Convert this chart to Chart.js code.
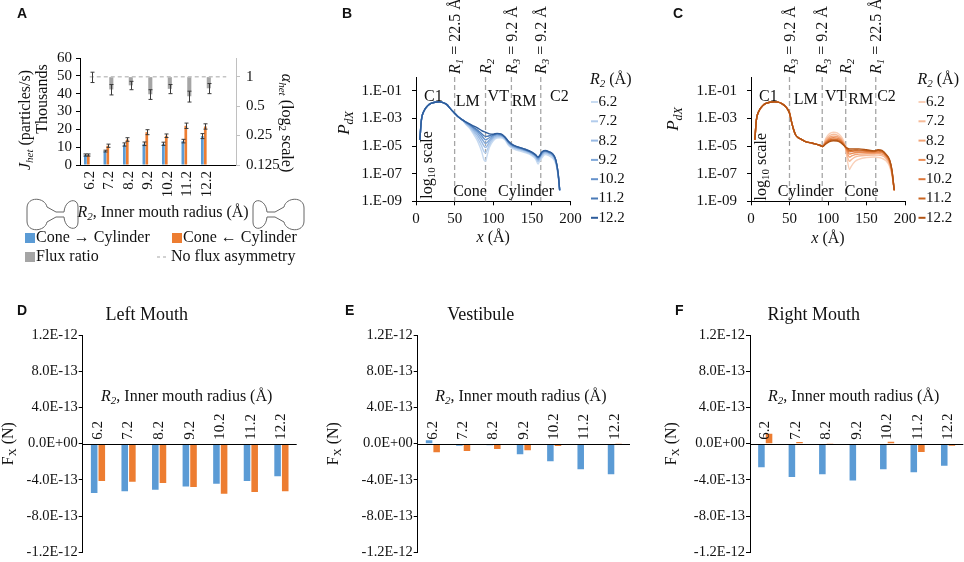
<!DOCTYPE html>
<html>
<head>
<meta charset="utf-8">
<script src="https://cdn.jsdelivr.net/npm/chart.js@4.4.1/dist/chart.umd.min.js"></script>
<style>
  body { margin: 0; background: #fff; }
  #wrap { position: relative; width: 964px; height: 562px; overflow: hidden; background: #fff; }
  canvas { position: absolute; }
  .tag { position: absolute; font: bold 14px "Liberation Sans", Arial, sans-serif; line-height: 16px; color: #111; }
</style>
</head>
<body>
<div id="wrap">
  <canvas id="cA" width="320" height="270" style="left:0;top:0;width:320px;height:270px"></canvas>
  <canvas id="cB" width="320" height="270" style="left:320px;top:0;width:320px;height:270px"></canvas>
  <canvas id="cC" width="324" height="270" style="left:640px;top:0;width:324px;height:270px"></canvas>
  <canvas id="cD" width="320" height="277" style="left:0;top:285px;width:320px;height:277px"></canvas>
  <canvas id="cE" width="320" height="277" style="left:320px;top:285px;width:320px;height:277px"></canvas>
  <canvas id="cF" width="324" height="277" style="left:640px;top:285px;width:324px;height:277px"></canvas>
  <div class="tag" style="left:17px;top:5px">A</div>
  <div class="tag" style="left:342px;top:5px">B</div>
  <div class="tag" style="left:673px;top:5px">C</div>
  <div class="tag" style="left:17px;top:302px">D</div>
  <div class="tag" style="left:345px;top:302px">E</div>
  <div class="tag" style="left:675px;top:302px">F</div>
</div>
<script>
// ---- data ----
const radii = ['6.2', '7.2', '8.2', '9.2', '10.2', '11.2', '12.2'];
// panel A keeps one empty slot on the right, as in the original axis
const slotsA = ['6.2', '7.2', '8.2', '9.2', '10.2', '11.2', '12.2', ''];

// J_het, thousands of particles/s
const fluxConeToCyl = [5.6, 7.8, 11.5, 11.9, 11.9, 13.4, 16.2];
const fluxConeToCylErr = [0.6, 0.5, 0.9, 1.0, 0.9, 1.0, 1.4];
const fluxCylToCone = [5.6, 10.8, 14.3, 18.4, 16.4, 22.0, 21.6];
const fluxCylToConeErr = [0.6, 0.9, 1.0, 1.4, 1.0, 1.5, 1.5];
// alpha_het (log2 axis)
const fluxRatio = [0.99, 0.74, 0.815, 0.66, 0.75, 0.63, 0.76];
const fluxRatioErr = [0.12, 0.09, 0.08, 0.075, 0.08, 0.08, 0.09];
const noAsymmetry = [1, 1, 1, 1, 1, 1, 1, 1];
const jTicks = [0, 10, 20, 30, 40, 50, 60];
const ratioTicks = [0.125, 0.25, 0.5, 1];

// panel B: P_dX along x, cone on the left
const xB = [5, 7, 10, 15, 20, 25, 30, 35, 40, 45, 50, 55, 60, 65, 70, 75, 80, 85, 88, 90, 92, 95, 100, 105, 110,
  115, 120, 125, 130, 140, 150, 155, 158, 160, 163, 167, 172, 177, 181, 184, 186];
const pB62 = [2.8e-5, 7.9e-4, 3.2e-3, 8.1e-3, 1.26e-2, 1.5e-2, 1.6e-2, 1.4e-2, 1.0e-2, 4.7e-3, 2.4e-3, 1.26e-3, 7.9e-4,
  3.5e-4, 1.8e-4, 6.5e-5, 2.1e-5, 4.0e-6, 1.0e-6, 7.9e-7, 2.0e-6, 7.9e-6, 2.4e-5, 3.8e-5, 4.0e-5, 2.8e-5, 1.1e-5,
  6.8e-6, 5.2e-6, 3.5e-6, 2.0e-6, 1.1e-6, 5.0e-7, 7.9e-7, 1.4e-6, 2.4e-6, 2.0e-6, 1.3e-6, 5.0e-7, 6.3e-8, 6.3e-9];
const pB72 = [2.8e-5, 7.9e-4, 3.2e-3, 8.1e-3, 1.26e-2, 1.5e-2, 1.6e-2, 1.4e-2, 1.0e-2, 4.7e-3, 2.4e-3, 1.26e-3, 7.9e-4,
  3.8e-4, 2.1e-4, 8.9e-5, 3.5e-5, 1.0e-5, 4.0e-6, 3.2e-6, 5.0e-6, 1.26e-5, 3.2e-5, 4.5e-5, 4.6e-5, 3.2e-5, 1.3e-5,
  7.9e-6, 6.3e-6, 4.2e-6, 2.4e-6, 1.4e-6, 7.1e-7, 1.0e-6, 1.9e-6, 3.0e-6, 2.5e-6, 1.7e-6, 6.3e-7, 7.6e-8, 6.3e-9];
const pB82 = [2.8e-5, 7.9e-4, 3.2e-3, 8.1e-3, 1.26e-2, 1.5e-2, 1.6e-2, 1.4e-2, 1.0e-2, 4.7e-3, 2.4e-3, 1.26e-3, 7.9e-4,
  4.2e-4, 2.5e-4, 1.2e-4, 5.6e-5, 2.0e-5, 1.0e-5, 7.9e-6, 1.0e-5, 2.0e-5, 4.0e-5, 5.2e-5, 5.2e-5, 3.5e-5, 1.5e-5,
  8.9e-6, 7.1e-6, 4.8e-6, 2.8e-6, 1.7e-6, 9.3e-7, 1.3e-6, 2.4e-6, 3.5e-6, 3.0e-6, 1.9e-6, 7.6e-7, 8.7e-8, 6.3e-9];
const pB92 = [2.8e-5, 7.9e-4, 3.2e-3, 8.1e-3, 1.26e-2, 1.5e-2, 1.6e-2, 1.4e-2, 1.0e-2, 4.7e-3, 2.4e-3, 1.26e-3, 7.9e-4,
  4.7e-4, 3.0e-4, 1.6e-4, 8.3e-5, 3.5e-5, 2.0e-5, 1.6e-5, 1.8e-5, 2.8e-5, 5.0e-5, 6.3e-5, 6.0e-5, 4.0e-5, 1.7e-5,
  1.0e-5, 7.9e-6, 5.2e-6, 3.0e-6, 1.9e-6, 1.1e-6, 1.5e-6, 2.8e-6, 4.0e-6, 3.3e-6, 2.2e-6, 8.3e-7, 9.5e-8, 6.3e-9];
const pB102 = [2.8e-5, 7.9e-4, 3.2e-3, 8.1e-3, 1.26e-2, 1.5e-2, 1.6e-2, 1.4e-2, 1.0e-2, 4.7e-3, 2.4e-3, 1.26e-3, 7.9e-4,
  5.0e-4, 3.3e-4, 1.9e-4, 1.1e-4, 5.6e-5, 3.5e-5, 2.8e-5, 3.2e-5, 4.0e-5, 6.0e-5, 7.2e-5, 6.6e-5, 4.3e-5, 1.9e-5,
  1.1e-5, 8.5e-6, 5.6e-6, 3.2e-6, 2.0e-6, 1.3e-6, 1.7e-6, 3.2e-6, 4.4e-6, 3.5e-6, 2.4e-6, 8.9e-7, 1.0e-7, 6.3e-9];
const pB112 = [2.8e-5, 7.9e-4, 3.2e-3, 8.1e-3, 1.26e-2, 1.5e-2, 1.6e-2, 1.4e-2, 1.0e-2, 4.7e-3, 2.4e-3, 1.26e-3, 7.9e-4,
  5.2e-4, 3.5e-4, 2.2e-4, 1.4e-4, 7.9e-5, 5.6e-5, 5.0e-5, 5.0e-5, 5.6e-5, 6.6e-5, 7.9e-5, 7.1e-5, 4.5e-5, 2.0e-5,
  1.2e-5, 8.9e-6, 6.0e-6, 3.5e-6, 2.2e-6, 1.5e-6, 1.9e-6, 3.5e-6, 4.6e-6, 3.8e-6, 2.6e-6, 9.5e-7, 1.05e-7, 6.3e-9];
const pB122 = [2.8e-5, 7.9e-4, 3.2e-3, 8.1e-3, 1.26e-2, 1.5e-2, 1.6e-2, 1.4e-2, 1.0e-2, 4.7e-3, 2.4e-3, 1.26e-3, 7.9e-4,
  5.5e-4, 3.8e-4, 2.8e-4, 2.0e-4, 1.3e-4, 1.1e-4, 1.0e-4, 8.9e-5, 7.6e-5, 7.2e-5, 8.3e-5, 7.6e-5, 4.6e-5, 2.1e-5,
  1.26e-5, 9.5e-6, 6.3e-6, 3.6e-6, 2.3e-6, 1.6e-6, 2.0e-6, 3.8e-6, 4.8e-6, 4.0e-6, 2.7e-6, 1.0e-6, 1.07e-7, 6.3e-9];

// panel C: P_dX along x, cylinder on the left
const xC = [5, 7, 10, 15, 20, 25, 30, 35, 40, 45, 50, 52, 55, 58, 62, 65, 70, 80, 90, 93, 97, 102, 107, 112, 117,
  122, 125, 128, 130, 135, 140, 150, 160, 165, 170, 175, 180, 183, 186];
const pC62 = [2.8e-5, 7.9e-4, 3.2e-3, 8.1e-3, 1.26e-2, 1.5e-2, 1.6e-2, 1.5e-2, 1.2e-2, 7.2e-3, 2.5e-3, 7.9e-4, 1.8e-4,
  6.3e-5, 3.8e-5, 3.2e-5, 2.2e-5, 1.6e-5, 1.1e-5, 9.3e-6, 3.5e-5, 7.9e-5, 1.0e-4, 8.9e-5, 5.0e-5, 1.26e-5, 1.0e-6,
  2.0e-7, 3.3e-7, 7.6e-7, 1.1e-6, 1.5e-6, 1.6e-6, 1.5e-6, 1.3e-6, 8.9e-7, 3.3e-7, 7.9e-8, 6.3e-9];
const pC72 = [2.8e-5, 7.9e-4, 3.2e-3, 8.1e-3, 1.26e-2, 1.5e-2, 1.6e-2, 1.5e-2, 1.2e-2, 7.2e-3, 2.5e-3, 7.9e-4, 1.8e-4,
  6.3e-5, 3.8e-5, 3.2e-5, 2.2e-5, 1.6e-5, 1.1e-5, 9.3e-6, 2.8e-5, 5.6e-5, 7.1e-5, 6.3e-5, 3.8e-5, 1.1e-5, 2.0e-6,
  7.9e-7, 1.0e-6, 1.6e-6, 1.9e-6, 2.1e-6, 2.2e-6, 2.2e-6, 2.0e-6, 1.3e-6, 4.5e-7, 1.0e-7, 6.3e-9];
const pC82 = [2.8e-5, 7.9e-4, 3.2e-3, 8.1e-3, 1.26e-2, 1.5e-2, 1.6e-2, 1.5e-2, 1.2e-2, 7.2e-3, 2.5e-3, 7.9e-4, 1.8e-4,
  6.3e-5, 3.8e-5, 3.2e-5, 2.2e-5, 1.6e-5, 1.1e-5, 9.3e-6, 2.2e-5, 4.2e-5, 5.2e-5, 4.8e-5, 3.0e-5, 1.05e-5, 3.2e-6,
  1.6e-6, 1.8e-6, 2.4e-6, 2.6e-6, 2.8e-6, 2.8e-6, 2.9e-6, 2.6e-6, 1.7e-6, 5.6e-7, 1.2e-7, 6.3e-9];
const pC92 = [2.8e-5, 7.9e-4, 3.2e-3, 8.1e-3, 1.26e-2, 1.5e-2, 1.6e-2, 1.5e-2, 1.2e-2, 7.2e-3, 2.5e-3, 7.9e-4, 1.8e-4,
  6.3e-5, 3.8e-5, 3.2e-5, 2.2e-5, 1.6e-5, 1.1e-5, 9.3e-6, 1.9e-5, 3.3e-5, 4.0e-5, 3.7e-5, 2.5e-5, 1.0e-5, 4.5e-6,
  2.6e-6, 2.8e-6, 3.3e-6, 3.5e-6, 3.5e-6, 3.4e-6, 3.6e-6, 3.3e-6, 2.0e-6, 7.1e-7, 1.4e-7, 6.3e-9];
const pC102 = [2.8e-5, 7.9e-4, 3.2e-3, 8.1e-3, 1.26e-2, 1.5e-2, 1.6e-2, 1.5e-2, 1.2e-2, 7.2e-3, 2.5e-3, 7.9e-4, 1.8e-4,
  6.3e-5, 3.8e-5, 3.2e-5, 2.2e-5, 1.6e-5, 1.1e-5, 9.3e-6, 1.7e-5, 2.8e-5, 3.2e-5, 3.0e-5, 2.2e-5, 9.8e-6, 5.6e-6,
  3.8e-6, 4.0e-6, 4.4e-6, 4.3e-6, 4.2e-6, 3.9e-6, 4.4e-6, 4.0e-6, 2.3e-6, 8.3e-7, 1.6e-7, 6.3e-9];
const pC112 = [2.8e-5, 7.9e-4, 3.2e-3, 8.1e-3, 1.26e-2, 1.5e-2, 1.6e-2, 1.5e-2, 1.2e-2, 7.2e-3, 2.5e-3, 7.9e-4, 1.8e-4,
  6.3e-5, 3.8e-5, 3.2e-5, 2.2e-5, 1.6e-5, 1.1e-5, 9.3e-6, 1.5e-5, 2.4e-5, 2.8e-5, 2.6e-5, 1.9e-5, 9.5e-6, 6.6e-6,
  5.0e-6, 5.0e-6, 5.2e-6, 5.1e-6, 4.8e-6, 4.3e-6, 4.9e-6, 4.5e-6, 2.5e-6, 9.3e-7, 1.8e-7, 6.3e-9];
const pC122 = [2.8e-5, 7.9e-4, 3.2e-3, 8.1e-3, 1.26e-2, 1.5e-2, 1.6e-2, 1.5e-2, 1.2e-2, 7.2e-3, 2.5e-3, 7.9e-4, 1.8e-4,
  6.3e-5, 3.8e-5, 3.2e-5, 2.2e-5, 1.6e-5, 1.1e-5, 9.3e-6, 1.4e-5, 2.1e-5, 2.4e-5, 2.3e-5, 1.7e-5, 9.3e-6, 7.1e-6,
  6.3e-6, 6.3e-6, 6.3e-6, 6.3e-6, 5.4e-6, 4.5e-6, 5.4e-6, 4.8e-6, 2.7e-6, 1.0e-6, 1.9e-7, 6.3e-9];
const pdxTicks = [1e-9, 1e-7, 1e-5, 1e-3, 1e-1];
const pdxTickLabels = ['1.E-09', '1.E-07', '1.E-05', '1.E-03', '1.E-01'];
const xTicksPdx = [0, 50, 100, 150, 200];

// region boundaries (x, Å)
const boundsB = [50, 90, 123.5, 161.5];
const boundsC = [50, 92.5, 123, 162];

// panels D-F: F_X (N) per region
const forceLMcone = [-5.46e-13, -5.27e-13, -5.09e-13, -4.72e-13, -4.42e-13, -4.13e-13, -3.61e-13];
const forceLMcyl = [-4.13e-13, -4.2e-13, -4.35e-13, -4.79e-13, -5.53e-13, -5.35e-13, -5.27e-13];
const forceVTcone = [3.7e-14, -2.2e-14, -1.8e-14, -1.18e-13, -1.95e-13, -2.84e-13, -3.39e-13];
const forceVTcyl = [-9.6e-14, -8.1e-14, -5.9e-14, -7.4e-14, -2.6e-14, -1.5e-14, 7e-15];
const forceRMcone = [-2.62e-13, -3.69e-13, -3.39e-13, -4.06e-13, -2.84e-13, -3.17e-13, -2.43e-13];
const forceRMcyl = [1.1e-13, 1.8e-14, 7e-15, 4e-15, 2.2e-14, -9.2e-14, -2.2e-14];
const forceTicks = [-1.2e-12, -8e-13, -4e-13, 0, 4e-13, 8e-13, 1.2e-12];
const forceTickLabels = ['-1.2E-12', '-8.0E-13', '-4.0E-13', '0.0E+00', '4.0E-13', '8.0E-13', '1.2E-12'];

// ---- styling ----
const SERIF = '"Liberation Serif", "Times New Roman", serif';
const INK = '#111';
const BLUE = '#5b9bd5';
const ORANGE = '#ed7d31';
const GREY = '#a5a5a5';
const bluesB = ['#c8dbf1', '#b2ccec', '#98b9e3', '#7fa7d8', '#6592cb', '#4a7ab7', '#2d5c9b'];
const orangesC = ['#f9d0b9', '#f6bb99', '#f2a376', '#eb8c54', '#dd7639', '#c96420', '#b15313'];
const TICK_FONT = { family: SERIF, size: 15 };

const R2_TITLE = [['R', 'i'], ['2', 'is'], [', Inner mouth radius (Å)', '']];
const R2_UNIT = [['R', 'i'], ['2', 'is'], [' (Å)', '']];
const PDX = [['P', 'i'], ['dX', 'is']];
const XTITLE = [['x', 'i'], [' (Å)', '']];

Chart.defaults.font.family = SERIF;
Chart.defaults.font.size = 15;
Chart.defaults.color = INK;
Chart.defaults.animation = false;
Chart.defaults.plugins.legend.display = false;
Chart.defaults.plugins.tooltip.enabled = false;

// text with italic / subscript pieces
function rich(ctx, parts, x, y, size, align, angle) {
  ctx.save();
  ctx.translate(x, y);
  if (angle) ctx.rotate(angle);
  ctx.textBaseline = 'middle';
  ctx.textAlign = 'left';
  ctx.fillStyle = INK;
  const fontOf = f => (f.includes('i') ? 'italic ' : '') + (f.includes('s') ? Math.round(size * 0.68) : size) + 'px ' + SERIF;
  let w = 0;
  parts.forEach(([t, f]) => { ctx.font = fontOf(f); w += ctx.measureText(t).width; });
  let cx = align === 'center' ? -w / 2 : align === 'right' ? -w : 0;
  parts.forEach(([t, f]) => {
    ctx.font = fontOf(f);
    ctx.fillText(t, cx, f.includes('s') ? size * 0.28 : 0);
    cx += ctx.measureText(t).width;
  });
  ctx.restore();
}

function errorBars(chart, index, errs) {
  const meta = chart.getDatasetMeta(index);
  const scale = chart.scales[meta.yAxisID];
  const vals = chart.data.datasets[index].data;
  const ctx = chart.ctx;
  ctx.save();
  ctx.strokeStyle = '#3a3a3a';
  ctx.lineWidth = 1;
  meta.data.forEach((bar, i) => {
    if (vals[i] == null || errs[i] == null) return;
    const x = Math.round(bar.x) + 0.5;
    const y1 = scale.getPixelForValue(vals[i] - errs[i]);
    const y2 = scale.getPixelForValue(vals[i] + errs[i]);
    ctx.beginPath();
    ctx.moveTo(x, y1); ctx.lineTo(x, y2);
    ctx.moveTo(x - 2, y1); ctx.lineTo(x + 2, y1);
    ctx.moveTo(x - 2, y2); ctx.lineTo(x + 2, y2);
    ctx.stroke();
  });
  ctx.restore();
}

// little channel outline beside the panel A axis title
function pore(ctx, mirror) {
  ctx.save();
  if (mirror) { ctx.translate(mirror, 0); ctx.scale(-1, 1); }
  ctx.beginPath();
  ctx.moveTo(47, 207);
  ctx.bezierCurveTo(45, 197, 27, 196, 27, 208);
  ctx.lineTo(27, 221);
  ctx.bezierCurveTo(27, 233, 45, 232, 47, 222);
  ctx.lineTo(56, 217);
  ctx.lineTo(64, 217);
  ctx.bezierCurveTo(65, 230, 78, 232, 78, 222);
  ctx.lineTo(78, 207);
  ctx.bezierCurveTo(78, 197, 65, 199, 64, 212);
  ctx.lineTo(56, 212);
  ctx.closePath();
  ctx.strokeStyle = '#666';
  ctx.lineWidth = 1;
  ctx.stroke();
  ctx.restore();
}

// ---- panel A ----
const panelA = {
  id: 'panelA',
  afterDatasetsDraw(chart) {
    errorBars(chart, 0, fluxConeToCylErr);
    errorBars(chart, 1, fluxCylToConeErr);
    errorBars(chart, 2, fluxRatioErr);
  },
  afterDraw(chart) {
    const ctx = chart.ctx;
    const ds = chart.data.datasets;
    rich(ctx, [['J', 'i'], ['het', 'is'], [' (particles/s)', '']], 26, 120, 16, 'center', -Math.PI / 2);
    rich(ctx, [['Thousands', '']], 43, 99, 16, 'center', -Math.PI / 2);
    rich(ctx, [['α', 'i'], ['het', 'is'], [' (log', ''], ['2', 's'], [' scale)', '']], 286, 123, 16, 'center', Math.PI / 2);
    rich(ctx, R2_TITLE, 163, 213, 16, 'center');
    pore(ctx, 0);
    pore(ctx, 331);

    // legend
    ctx.save();
    ctx.fillStyle = ds[0].backgroundColor; ctx.fillRect(25, 233, 10, 10);
    ctx.fillStyle = ds[1].backgroundColor; ctx.fillRect(172, 233, 10, 10);
    ctx.fillStyle = ds[2].backgroundColor; ctx.fillRect(25, 252, 10, 10);
    ctx.strokeStyle = ds[3].borderColor; ctx.lineWidth = 1.5; ctx.setLineDash([3, 3]);
    ctx.beginPath(); ctx.moveTo(157, 257); ctx.lineTo(169, 257); ctx.stroke();
    ctx.restore();
    rich(ctx, [[ds[0].label, '']], 36, 238, 16, 'left');
    rich(ctx, [[ds[1].label, '']], 183, 238, 16, 'left');
    rich(ctx, [[ds[2].label, '']], 36, 257, 16, 'left');
    rich(ctx, [[ds[3].label, '']], 171, 257, 16, 'left');
  }
};

new Chart(document.getElementById('cA'), {
  type: 'bar',
  data: {
    labels: slotsA,
    datasets: [
      { label: 'Cone → Cylinder', data: fluxConeToCyl, backgroundColor: BLUE, xAxisID: 'x', yAxisID: 'y',
        categoryPercentage: 0.6, barPercentage: 0.92 },
      { label: 'Cone ← Cylinder', data: fluxCylToCone, backgroundColor: ORANGE, xAxisID: 'x', yAxisID: 'y',
        categoryPercentage: 0.6, barPercentage: 0.92 },
      { label: 'Flux ratio', data: fluxRatio, base: 1, backgroundColor: GREY, xAxisID: 'x2', yAxisID: 'y2',
        categoryPercentage: 0.42, barPercentage: 1 },
      { type: 'line', label: 'No flux asymmetry', data: noAsymmetry, xAxisID: 'x2', yAxisID: 'y2',
        borderColor: '#c4c4c4', borderWidth: 1.5, borderDash: [4, 3], pointRadius: 0, order: -1 }
    ]
  },
  options: {
    responsive: false,
    layout: { padding: { left: 0, right: 0, top: 58, bottom: 0 } },
    scales: {
      x: {
        afterFit: s => { s.height = 105; },
        grid: { display: false, drawTicks: false },
        border: { color: '#000' },
        ticks: { minRotation: 90, maxRotation: 90, autoSkip: false, padding: 6, font: TICK_FONT }
      },
      x2: { type: 'category', display: false, offset: true },
      y: {
        min: 0, max: 60,
        afterFit: s => { s.width = 80; },
        afterBuildTicks: s => { s.ticks = jTicks.map(v => ({ value: v })); },
        ticks: { autoSkip: false, padding: 4, font: TICK_FONT },
        grid: { drawOnChartArea: false, tickLength: 4, color: '#000' },
        border: { color: '#000' }
      },
      y2: {
        type: 'logarithmic', position: 'right', min: 0.125, max: 1.55,
        afterFit: s => { s.width = 84; },
        afterBuildTicks: s => { s.ticks = ratioTicks.map(v => ({ value: v })); },
        ticks: { autoSkip: false, callback: v => String(v), padding: 6, font: TICK_FONT },
        grid: { drawOnChartArea: false, tickLength: 4, color: '#c0c0c0' },
        border: { color: '#c0c0c0' }
      }
    }
  },
  plugins: [panelA]
});

// ---- panels B and C ----
function profilePlugin(o) {
  return {
    id: 'profile',
    beforeDatasetsDraw(chart) {
      const { ctx, chartArea: ca, scales: { x } } = chart;
      ctx.save();
      ctx.strokeStyle = '#a6a6a6';
      ctx.lineWidth = 1.3;
      ctx.setLineDash([5, 3]);
      o.bounds.forEach(b => {
        const px = x.getPixelForValue(b);
        ctx.beginPath(); ctx.moveTo(px, ca.top); ctx.lineTo(px, ca.bottom); ctx.stroke();
      });
      ctx.restore();
    },
    afterDraw(chart) {
      const { ctx, chartArea: ca, scales: { x, y } } = chart;
      o.bounds.forEach((b, k) => rich(ctx, o.boundLabels[k], x.getPixelForValue(b) + 1, ca.top - 3, 16, 'left', -Math.PI / 2));
      o.regions.forEach(r => rich(ctx, r.parts, x.getPixelForValue(r.x), y.getPixelForValue(r.y), 16, 'center',
        r.rot ? -Math.PI / 2 : 0));
      rich(ctx, PDX, o.pdx[0], o.pdx[1], 17, 'center', -Math.PI / 2);
      rich(ctx, XTITLE, (ca.left + ca.right) / 2, o.xTitleY, 16, 'center');
      // legend
      rich(ctx, R2_UNIT, o.leg, 80, 16, 'left');
      chart.data.datasets.forEach((ds, i) => {
        const yy = 102 + i * 19.3;
        ctx.save();
        ctx.strokeStyle = ds.borderColor;
        ctx.lineWidth = 2;
        ctx.beginPath(); ctx.moveTo(o.leg + 1, yy); ctx.lineTo(o.leg + 8, yy); ctx.stroke();
        ctx.restore();
        rich(ctx, [[ds.label, '']], o.leg + 8.5, yy, 15, 'left');
      });
    }
  };
}

function profileChart(id, xs, curves, colors, o) {
  return new Chart(document.getElementById(id), {
    type: 'line',
    data: {
      datasets: curves.map((c, k) => ({
        label: radii[k],
        data: xs.map((xv, i) => ({ x: xv, y: c[i] })),
        borderColor: colors[k],
        borderWidth: 1.4,
        pointRadius: 0,
        cubicInterpolationMode: 'monotone',
        fill: false,
        order: curves.length - k   // widest radius drawn on top
      }))
    },
    options: {
      responsive: false,
      layout: { padding: { left: 0, right: o.right, top: 77, bottom: 0 } },
      scales: {
        x: {
          type: 'linear', min: 0, max: 200,
          afterFit: s => { s.height = 68.7; },
          afterBuildTicks: s => { s.ticks = xTicksPdx.map(v => ({ value: v })); },
          ticks: { autoSkip: false, padding: 5, font: TICK_FONT },
          grid: { drawOnChartArea: false, tickLength: 4, color: '#000' },
          border: { color: '#000' }
        },
        y: {
          type: 'logarithmic', min: 1e-9, max: 1,
          afterFit: s => { s.width = o.left; },
          afterBuildTicks: s => { s.ticks = pdxTicks.map(v => ({ value: v })); },
          ticks: { autoSkip: false, callback: (v, i) => pdxTickLabels[i], padding: 10, font: TICK_FONT },
          grid: { drawOnChartArea: false, tickLength: 4, color: '#000' },
          border: { color: '#000' }
        }
      }
    },
    plugins: [profilePlugin(o)]
  });
}

const LOG10 = [['log', ''], ['10', 's'], [' scale', '']];

profileChart('cB', xB, [pB62, pB72, pB82, pB92, pB102, pB112, pB122], bluesB, {
  left: 96, right: 69.5, leg: 270, pdx: [25, 123], xTitleY: 238,
  bounds: boundsB,
  boundLabels: [
    [['R', 'i'], ['1', 'is'], [' = 22.5 Å', '']],
    [['R', 'i'], ['2', 'is']],
    [['R', 'i'], ['3', 'is'], [' = 9.2 Å', '']],
    [['R', 'i'], ['3', 'is'], [' = 9.2 Å', '']]
  ],
  regions: [
    { x: 22.4, y: 0.038, parts: [['C1', '']] },
    { x: 67, y: 0.0166, parts: [['LM', '']] },
    { x: 106.5, y: 0.038, parts: [['VT', '']] },
    { x: 140, y: 0.0166, parts: [['RM', '']] },
    { x: 185.5, y: 0.038, parts: [['C2', '']] },
    { x: 70, y: 5e-9, parts: [['Cone', '']] },
    { x: 142.4, y: 5e-9, parts: [['Cylinder', '']] },
    { x: 14.7, y: 4.3e-7, parts: LOG10, rot: true }
  ]
});

profileChart('cC', xC, [pC62, pC72, pC82, pC92, pC102, pC112, pC122], orangesC, {
  left: 111, right: 59, leg: 277.5, pdx: [34, 119], xTitleY: 239,
  bounds: boundsC,
  boundLabels: [
    [['R', 'i'], ['3', 'is'], [' = 9.2 Å', '']],
    [['R', 'i'], ['3', 'is'], [' = 9.2 Å', '']],
    [['R', 'i'], ['2', 'is']],
    [['R', 'i'], ['1', 'is'], [' = 22.5 Å', '']]
  ],
  regions: [
    { x: 22.5, y: 0.038, parts: [['C1', '']] },
    { x: 71, y: 0.021, parts: [['LM', '']] },
    { x: 110, y: 0.038, parts: [['VT', '']] },
    { x: 142.5, y: 0.021, parts: [['RM', '']] },
    { x: 176, y: 0.038, parts: [['C2', '']] },
    { x: 71, y: 5e-9, parts: [['Cylinder', '']] },
    { x: 143.7, y: 5e-9, parts: [['Cone', '']] },
    { x: 14, y: 3.2e-7, parts: LOG10, rot: true }
  ]
});

// ---- panels D, E, F ----
function forcePlugin(o) {
  return {
    id: 'force',
    afterDatasetsDraw(chart) {
      const { ctx, chartArea: ca, scales: { y } } = chart;
      const zy = Math.round(y.getPixelForValue(0)) + 0.5;
      ctx.save();
      ctx.strokeStyle = '#000';
      ctx.lineWidth = 1;
      ctx.beginPath(); ctx.moveTo(ca.left, zy); ctx.lineTo(ca.right, zy); ctx.stroke();
      ctx.restore();
    },
    afterDraw(chart) {
      const { ctx, chartArea: ca, scales: { x, y } } = chart;
      const zy = y.getPixelForValue(0);
      const cx = (ca.left + ca.right) / 2;
      rich(ctx, [[o.title, '']], cx - 43, 30, 18, 'center');
      rich(ctx, R2_TITLE, cx - 3, zy - 47, 16, 'center');
      chart.data.labels.forEach((lab, i) => rich(ctx, [[lab, '']], x.getPixelForValue(i), zy - 4, 15, 'left', -Math.PI / 2));
      rich(ctx, [['F', ''], ['X', 's'], [' (N)', '']], o.fx, (ca.top + ca.bottom) / 2, 16, 'center', -Math.PI / 2);
    }
  };
}

function forceChart(id, cone, cyl, o) {
  return new Chart(document.getElementById(id), {
    type: 'bar',
    data: {
      labels: radii,
      datasets: [
        { label: 'Cone → Cylinder', data: cone, backgroundColor: BLUE, categoryPercentage: 0.5, barPercentage: 0.86 },
        { label: 'Cone ← Cylinder', data: cyl, backgroundColor: ORANGE, categoryPercentage: 0.5, barPercentage: 0.86 }
      ]
    },
    options: {
      responsive: false,
      layout: { padding: { left: 0, right: o.right, top: 50, bottom: 9.7 } },
      scales: {
        x: { display: false },
        y: {
          min: -1.2e-12, max: 1.2e-12,
          afterFit: s => { s.width = o.left; },
          afterBuildTicks: s => { s.ticks = forceTicks.map(v => ({ value: v })); },
          ticks: { autoSkip: false, callback: (v, i) => forceTickLabels[i], padding: 1, font: { family: SERIF, size: 14.5 } },
          grid: { color: 'rgba(0,0,0,0)', tickColor: '#000', tickLength: 4 },
          border: { color: '#000' }
        }
      }
    },
    plugins: [forcePlugin(o)]
  });
}

forceChart('cD', forceLMcone, forceLMcyl, { title: 'Left Mouth', left: 82.7, right: 23.3, fx: 9 });
forceChart('cE', forceVTcone, forceVTcyl, { title: 'Vestibule', left: 97.7, right: 10, fx: 14 });
forceChart('cF', forceRMcone, forceRMcyl, { title: 'Right Mouth', left: 110, right: 0.7, fx: 32 });
</script>
</body>
</html>
